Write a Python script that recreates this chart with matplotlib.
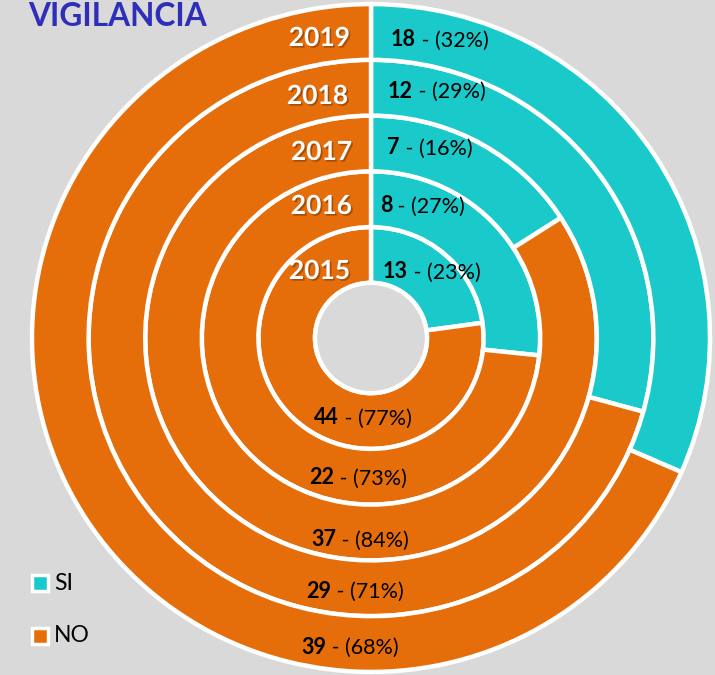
import matplotlib
matplotlib.use("Agg")
import matplotlib.pyplot as plt
import matplotlib.patheffects as pe
from matplotlib.offsetbox import TextArea, HPacker, AnnotationBbox
from matplotlib.patches import Circle

plt.rcParams['font.family'] = ['Lato', 'DejaVu Sans']

years = ["2015", "2016", "2017", "2018", "2019"]
si_values = [13, 8, 7, 12, 18]
no_values = [44, 22, 37, 29, 39]
si_pct = ["23%", "27%", "16%", "29%", "32%"]
no_pct = ["77%", "73%", "84%", "71%", "68%"]
legend_labels = ["SI", "NO"]
title = "VIGILANCIA"

TEAL = "#1AC9C9"
ORANGE = "#E66E0A"
BG = "#D9D9D9"

W, H = 715, 675
cx, cy = 371, 338
S = 0.985  # slight vertical squash seen in the reference
fig = plt.figure(figsize=(W / 100, H / 100), dpi=100, facecolor=BG)
ax = fig.add_axes([0, 0, 1, 1])
ax.set_facecolor(BG)

hole = 56
width = 56.6
for i, (s, n) in enumerate(zip(si_values, no_values)):
    r = hole + width * (i + 1)
    ax.pie([s, n], radius=r, startangle=90, counterclock=False,
           colors=[TEAL, ORANGE],
           wedgeprops=dict(width=width, edgecolor='white', linewidth=3.2))
ax.add_patch(Circle((0, 0), hole, facecolor=BG, edgecolor='white', lw=3.2, zorder=5))
ax.set_aspect('auto')
ax.set_xlim(-cx, W - cx)
ax.set_ylim(-(H - cy) / S, cy / S)
ax.axis('off')

# pixel positions (relative to image) for labels
year_pos = [(350, 271), (352, 206), (352, 152), (348, 96), (350, 38)]
si_pos = [(383, 272), (380, 206), (387, 148), (388, 91), (391, 40)]
no_pos = [(363, 418), (358, 478), (360, 540), (355, 591), (350, 647)]

def px(x, y):
    return x - cx, (cy - y) / S

for i, y in enumerate(years):
    x0, y0 = px(*year_pos[i])
    ax.text(x0, y0, y, ha='right', va='center', color='white', fontsize=19,
            fontweight='bold', zorder=10,
            path_effects=[pe.withSimplePatchShadow(offset=(1.2, -1.2), shadow_rgbFace='#7a3a05', alpha=0.6)])

def value_label(num, pct, pos, align):
    box = HPacker(children=[
        TextArea(str(num), textprops=dict(fontsize=15.5, fontweight='bold', color='black')),
        TextArea(" - (" + pct + ")", textprops=dict(fontsize=15.5, color='black')),
    ], align='baseline', pad=0, sep=0)
    ab = AnnotationBbox(box, px(*pos), frameon=False, box_alignment=align,
                        xycoords='data', pad=0, zorder=10)
    ax.add_artist(ab)

for i in range(len(years)):
    value_label(si_values[i], si_pct[i], si_pos[i], (0, 0.5))
    value_label(no_values[i], no_pct[i], no_pos[i], (0.5, 0.5))

fig.text(28 / W, 1 - 16 / H, title, ha='left', va='center', fontsize=22.8,
         fontweight='bold', color='#2E2EB8')

for lab, col, yy in zip(legend_labels, [TEAL, ORANGE], [583, 636]):
    x0, y0 = px(40, yy)
    ax.plot([x0], [y0], marker='s', markersize=11, markerfacecolor=col,
            markeredgecolor='white', markeredgewidth=2.5, zorder=10)
    ax.text(x0 + 14, y0, lab, ha='left', va='center', fontsize=16.5, color='black')

fig.savefig("out.png", dpi=100, facecolor=BG)
